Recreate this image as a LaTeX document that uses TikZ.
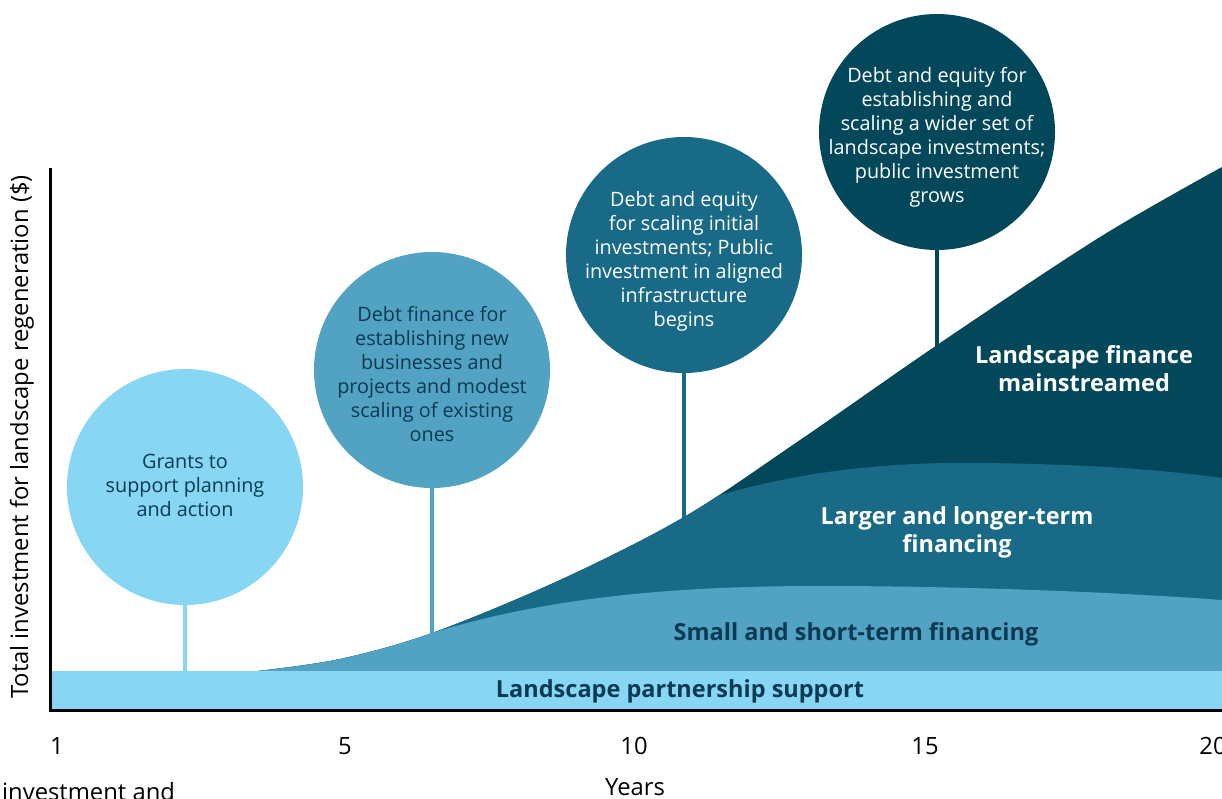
\documentclass[tikz,border=0pt]{standalone}
\usepackage{fontspec}
\setmainfont{Open Sans}
\definecolor{cLight}{HTML}{86D6F4}
\definecolor{cMed}{HTML}{52A2C3}
\definecolor{cTeal}{HTML}{186A87}
\definecolor{cDark}{HTML}{03485A}
\definecolor{cNavy}{HTML}{0C3A52}
\tikzset{
  bubble/.style={circle, minimum size=236pt, inner sep=0pt},
  bubbletext/.style={align=center, inner sep=0pt, font=\fontsize{19.8}{24}\selectfont},
  stem/.style={line width=4pt},
  band/.style={font=\fontsize{23.5}{28}\selectfont\bfseries, align=center},
  axislab/.style={font=\fontsize{23.8}{28}\selectfont, text=black},
}
\begin{document}
\begin{tikzpicture}[x=1pt,y=-1pt]
\useasboundingbox (0,0) rectangle (1222,798);
% outer curve region (dark)
\fill[cDark] (50,671) -- plot[smooth, tension=0.55] coordinates {(258,671) (340,659) (432,633) (560,580) (684,517) (800,440) (940,343) (1100,237) (1222,167)} -- (1222,671) -- cycle;
\begin{scope}
  \clip (50,671) -- plot[smooth, tension=0.55] coordinates {(258,671) (340,659) (432,633) (560,580) (684,517) (800,440) (940,343) (1100,237) (1222,167)} -- (1222,671) -- cycle;
  \fill[cTeal] (250,400) -- (720,495) .. controls (800,472) and (880,463) .. (960,463) .. controls (1060,463) and (1150,468) .. (1222,478) -- (1222,680) -- (250,680) -- cycle;
  \fill[cMed] (250,560) -- (432,633) .. controls (560,593) and (700,586) .. (820,586) .. controls (950,586) and (1100,591) .. (1222,600) -- (1222,680) -- (250,680) -- cycle;
\end{scope}
\fill[cLight] (50,671) rectangle (1222,710);
% stems
\coordinate (s1) at (185,671);
\coordinate (s2) at (432,634);
\coordinate (s3) at (684,518);
\coordinate (s4) at (937,346);
\node[bubble, fill=cLight] (b1) at (185,487) {};
\node[bubble, fill=cMed] (b2) at (432,370) {};
\node[bubble, fill=cTeal] (b3) at (684,255) {};
\node[bubble, fill=cDark] (b4) at (937,132) {};
\node[bubbletext, text=cNavy] (b1t) at (185,485) {Grants to\\support planning\\and action};
\node[bubbletext, text=cNavy] (b2t) at (432,374) {Debt finance for\\establishing new\\businesses and\\projects and modest\\scaling of existing\\ones};
\node[bubbletext, text=white] (b3t) at (684,261) {Debt and equity\\for scaling initial\\investments; Public\\investment in aligned\\infrastructure\\begins};
\node[bubbletext, text=white] (b4t) at (937,137) {Debt and equity for\\establishing and\\scaling a wider set of\\landscape investments;\\public investment\\grows};
\draw[stem, cLight] (b1.south) -- (s1);
\draw[stem, cMed] (b2.south) -- (s2);
\draw[stem, cTeal] (b3.south) -- (s3);
\draw[stem, cDark] (b4.south) -- (s4);
% band labels
\node[band, text=white] (l4) at (1084,369) {Landscape finance\\mainstreamed};
\node[band, text=white] (l3) at (957,532) {Larger and longer-term\\financing};
\node[band, text=cNavy] (l2) at (856,634) {Small and short-term financing};
\node[band, text=cNavy] (l1) at (680,691) {Landscape partnership support};
% axes
\coordinate (o) at (50,710);
\coordinate (yt) at (50,168);
\coordinate (xr) at (1222,710);
\draw[line width=3pt] (yt) -- (o) -- (xr);
\node[axislab] (t1) at (57,746) {1};
\node[axislab] (t5) at (345,746) {5};
\node[axislab] (t10) at (634,746) {10};
\node[axislab] (t15) at (925,746) {15};
\node[axislab] (t20) at (1213,746) {20};
\node[axislab] (xl) at (635,787) {Years};
\node[axislab, rotate=90] (yl) at (22,437) {Total investment for landscape regeneration (\$)};
\node[axislab, anchor=base west, inner sep=0pt] (cap) at (2,800) {investment and};
\end{tikzpicture}
\end{document}
